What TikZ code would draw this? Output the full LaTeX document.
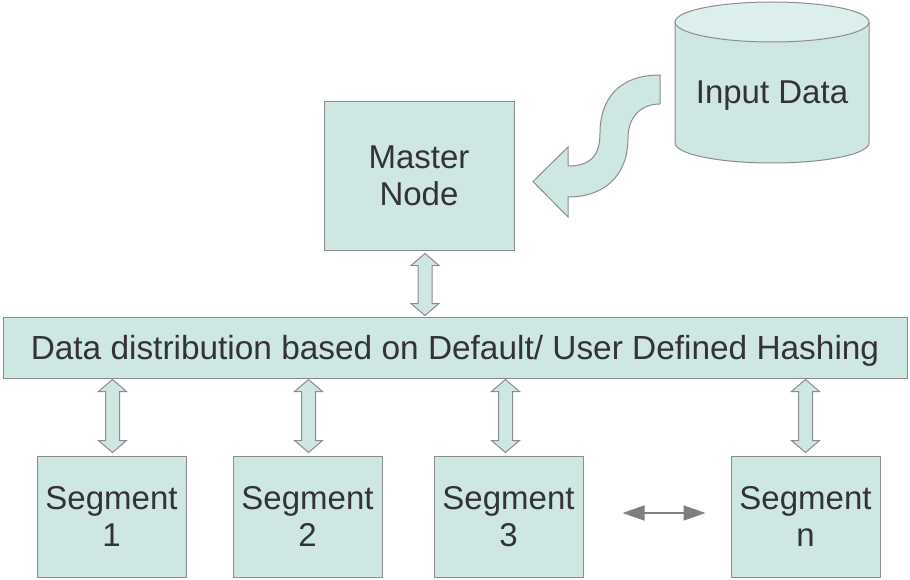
\documentclass[tikz,border=0pt]{standalone}
\usepackage{fontspec}
\setmainfont{Liberation Sans}
\usetikzlibrary{calc,arrows.meta}

\definecolor{boxfill}{HTML}{CFE7E3}
\definecolor{topfill}{HTML}{DDEFEC}
\definecolor{edge}{HTML}{8C8C8C}
\definecolor{ink}{HTML}{333333}
\definecolor{linkgray}{HTML}{7F7F7F}

% block double arrow between two tip points (top tip, bottom tip)
\newcommand{\twowayarrow}[2]{%
  \path[fatarrow] let \p1=(#1), \p2=(#2) in
    (\x1,\y1) -- (\x1+14pt,\y1-12pt) -- (\x1+7pt,\y1-12pt)
    -- (\x1+7pt,\y2+12pt) -- (\x1+14pt,\y2+12pt) -- (\x1,\y2)
    -- (\x1-14pt,\y2+12pt) -- (\x1-7pt,\y2+12pt)
    -- (\x1-7pt,\y1-12pt) -- (\x1-14pt,\y1-12pt) -- cycle;}

\begin{document}
\begin{tikzpicture}[x=1pt,y=-1pt,
  every node/.style={font=\fontsize{33}{36.5}\selectfont, text=ink},
  blockbox/.style={draw=edge, fill=boxfill, line width=1pt, inner sep=0pt, align=center},
  fatarrow/.style={draw=edge, fill=boxfill, line width=1pt, line join=miter},
  thinlink/.style={draw=linkgray, line width=1.5pt,
    {Triangle[length=22pt,width=15pt]}-{Triangle[length=22pt,width=15pt]}}
]
\useasboundingbox (0,0) rectangle (910,580);

% database cylinder
\path[fill=boxfill, draw=edge, line width=1pt]
  (675,22) -- (675,143) arc[start angle=180, end angle=360, x radius=97pt, y radius=20pt] -- (869,22);
\path[fill=topfill, draw=edge, line width=1pt] (772,22) ellipse [x radius=97pt, y radius=20pt];
\node (input) at (772,96) {Input Data};

% master and distribution layer
\node[blockbox, minimum width=190pt, minimum height=148pt] (master) at (419,176) {Master\\Node};
\node[blockbox, minimum width=904pt, minimum height=61pt, text depth=1pt,
      font=\fontsize{33.4}{36.5}\selectfont] (bar) at (455,347.5)
  {Data distribution based on Default/ User Defined Hashing};

% segments
\node[blockbox, minimum width=149pt, minimum height=121pt] (seg1) at (111.5,516.5) {Segment\\1};
\node[blockbox, minimum width=149pt, minimum height=121pt] (seg2) at (307.5,516.5) {Segment\\2};
\node[blockbox, minimum width=149pt, minimum height=121pt] (seg3) at (508.5,516.5) {Segment\\3};
\node[blockbox, minimum width=149pt, minimum height=121pt] (segn) at (805.5,516.5) {Segment\\n};

% curved block arrow from the data store to the master
\path[fatarrow]
  (660,75) .. controls (618,75) and (600,100) .. (600,133)
  .. controls (600,156) and (590,166) .. (568,166)
  -- (568,147) -- (533,181.5) -- (568,217) -- (568,197)
  .. controls (604,197) and (628,176) .. (628,138)
  .. controls (628,118) and (640,104) .. (660,104) -- cycle;

% two-way block arrows
\twowayarrow{$(master.south)+(6,3)$}{$(bar.north -| master.south)+(6,-1)$}
\twowayarrow{$(seg1.north |- bar.south)+(1,1)$}{$(seg1.north)+(1,-3)$}
\twowayarrow{$(seg2.north |- bar.south)+(1,1)$}{$(seg2.north)+(1,-3)$}
\twowayarrow{$(seg3.north |- bar.south)+(-3,1)$}{$(seg3.north)+(-3,-3)$}
\twowayarrow{$(segn.north |- bar.south)+(0,1)$}{$(segn.north)+(0,-3)$}

% link between segment 3 and segment n
\coordinate (linkA) at ($(seg3.east)+(39,-3.5)$);
\coordinate (linkB) at ($(segn.west)+(-25,-3.5)$);
\draw[thinlink] (linkA) -- (linkB);
\end{tikzpicture}
\end{document}
